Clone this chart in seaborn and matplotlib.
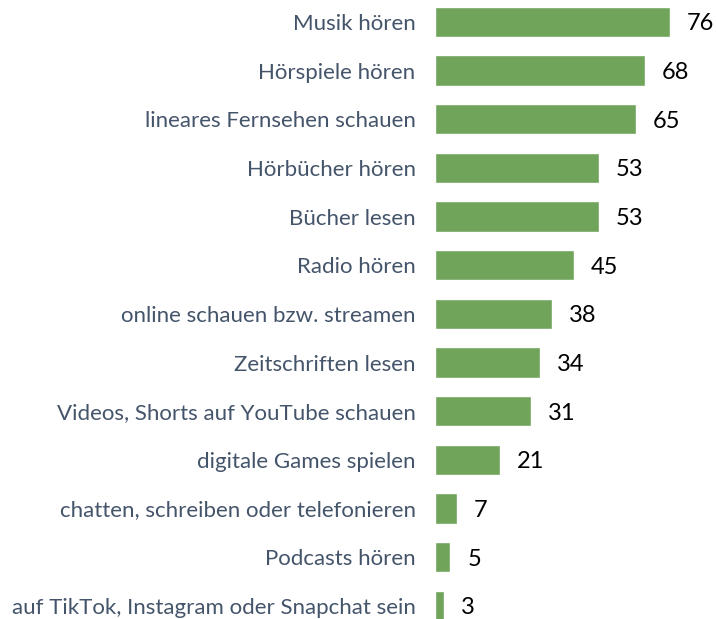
import matplotlib
matplotlib.use("Agg")
import matplotlib.pyplot as plt
import seaborn as sns
import pandas as pd

categories = [
    "Musik hören",
    "Hörspiele hören",
    "lineares Fernsehen schauen",
    "Hörbücher hören",
    "Bücher lesen",
    "Radio hören",
    "online schauen bzw. streamen",
    "Zeitschriften lesen",
    "Videos, Shorts auf YouTube schauen",
    "digitale Games spielen",
    "chatten, schreiben oder telefonieren",
    "Podcasts hören",
    "auf TikTok, Instagram oder Snapchat sein",
]
values = [76, 68, 65, 53, 53, 45, 38, 34, 31, 21, 7, 5, 3]

df = pd.DataFrame({"cat": categories, "val": values})

sns.set_theme(style="white")
plt.rcParams["font.family"] = ["Lato", "DejaVu Sans"]

fig = plt.figure(figsize=(7.16, 6.19), dpi=100)
ax = fig.add_axes([435 / 716, 0, 1 - 435 / 716, 1])

sns.barplot(data=df, x="val", y="cat", color="#70A45B", saturation=1,
            width=0.62, ax=ax)

ax.set_xlim(0, 281 / 3.09)
ax.set_ylim(12.27, -0.45)
for s in ax.spines.values():
    s.set_visible(False)
ax.set_xticks([])
ax.set_xlabel("")
ax.set_ylabel("")
ax.tick_params(axis="y", length=0, pad=14, labelsize=16, labelcolor="#44546A")

# value labels sit a touch below the bar centre, as in the original
for i, v in enumerate(values):
    ax.text(v + 5.5, i, str(v), va="center_baseline", ha="left",
            fontsize=17, color="black")

fig.savefig("out.png", dpi=100)
